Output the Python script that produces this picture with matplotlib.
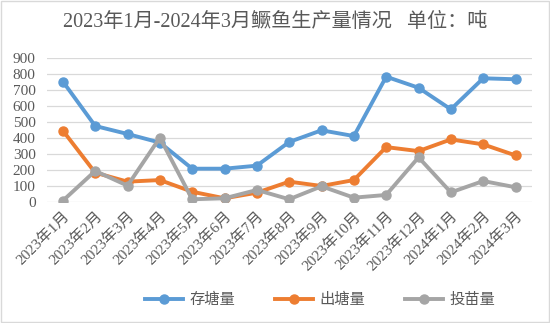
import numpy as np
import matplotlib.pyplot as plt

plt.rcParams['font.family'] = ['Liberation Serif', 'Noto Sans CJK SC']

# Data (tons)
months = ['2023年1月', '2023年2月', '2023年3月', '2023年4月', '2023年5月',
          '2023年6月', '2023年7月', '2023年8月', '2023年9月', '2023年10月',
          '2023年11月', '2023年12月', '2024年1月', '2024年2月', '2024年3月']
stock = [755, 477, 427, 373, 210, 210, 229, 377, 450, 414, 785, 716, 581, 775, 769]
output = [448, 185, 129, 139, 66, 25, 60, 129, 102, 139, 345, 320, 393, 362, 293]
fry = [10, 196, 104, 404, 19, 25, 77, 19, 100, 29, 46, 281, 62, 133, 94]

fig = plt.figure(figsize=(5.5, 3.23), dpi=100)
ax = fig.add_axes([46.7 / 550, 1 - 202.3 / 323, 485 / 550, 144 / 323])

x = np.arange(len(months))
ax.plot(x, stock, '-o', color='#5B9BD5', lw=2.8, ms=6.5, label='存塘量', zorder=3)
ax.plot(x, output, '-o', color='#ED7D31', lw=2.8, ms=6.5, label='出塘量', zorder=3)
ax.plot(x, fry, '-o', color='#A5A5A5', lw=2.8, ms=6.5, label='投苗量', zorder=3)

ax.set_xlim(-0.5, len(months) - 0.5)
ax.set_ylim(0, 900)
ax.set_yticks(range(0, 1000, 100))
ax.set_xticks(x)
ax.set_xticklabels(months, rotation=45, ha='right', rotation_mode='anchor',
                   fontsize=11, color='#595959')
ax.tick_params(axis='y', labelsize=11, colors='#595959', length=0, pad=8)
ax.tick_params(axis='x', length=0, pad=5)
ax.grid(axis='y', color='#D9D9D9', lw=0.9)
ax.set_axisbelow(True)
for s in ax.spines.values():
    s.set_visible(False)

fig.text(0.5, 1 - 22 / 323, '2023年1月-2024年3月鳜鱼生产量情况   单位：吨',
         ha='center', va='center', fontsize=14.5, color='#595959')

ax.legend(loc='center', bbox_to_anchor=(320 / 550, 1 - 300 / 323),
          bbox_transform=fig.transFigure, ncol=3, frameon=False,
          fontsize=11, labelcolor='#595959', handlelength=2.5,
          handletextpad=0.4, columnspacing=2.6)

fig.patches.append(plt.Rectangle((0.002, 0.003), 0.996, 0.994, transform=fig.transFigure,
                                 fill=False, edgecolor='#D9D9D9', lw=1))

fig.savefig('out.png', dpi=100)
